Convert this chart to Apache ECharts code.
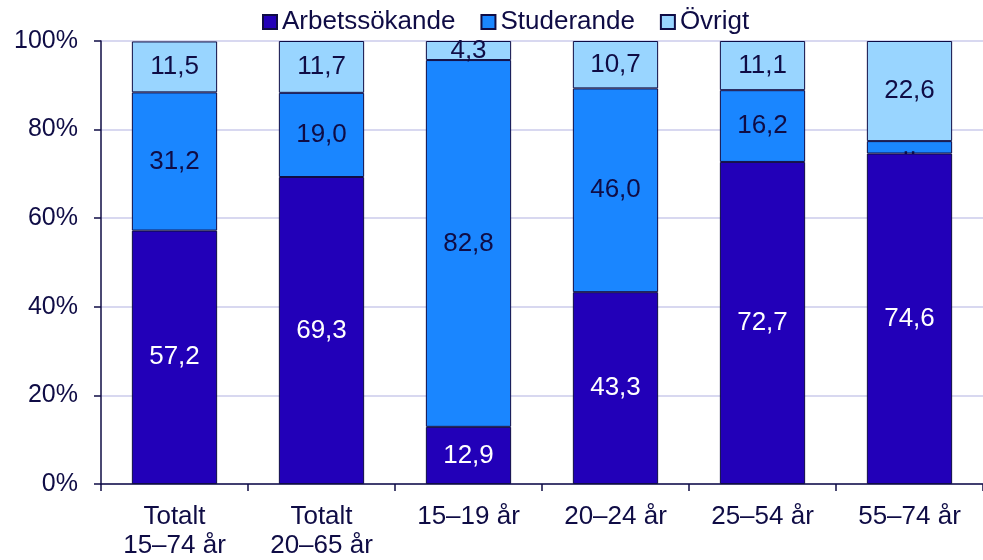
<!DOCTYPE html>
<html><head><meta charset="utf-8">
<script src="https://cdn.jsdelivr.net/npm/echarts@6/dist/echarts.min.js"></script>
<style>html,body{margin:0;padding:0;background:#fff}#c{width:983px;height:560px}</style>
</head><body><div id="c"></div>
<script>
const categories = ['Totalt\n15–74 år', 'Totalt\n20–65 år', '15–19 år', '20–24 år', '25–54 år', '55–74 år'];
const arbetssokande = [57.2, 69.3, 12.9, 43.3, 72.7, 74.6];
const studerande = [31.2, 19.0, 82.8, 46.0, 16.2, 2.8];
const studerandeLabels = ['31,2', '19,0', '82,8', '46,0', '16,2', '..'];
const ovrigt = [11.5, 11.7, 4.3, 10.7, 11.1, 22.6];
const yTicks = [0, 20, 40, 60, 80, 100];

const ink = '#0f0c45';
const fmt = v => v.toFixed(1).replace('.', ',');
const font = '"Liberation Sans", Arial, sans-serif';

function series(name, data, color, labelColor, labels) {
  return {
    name, type: 'bar', stack: 'a', data, barWidth: '58%',
    itemStyle: { color, borderColor: ink, borderWidth: 1 },
    label: {
      show: true, position: 'inside', color: labelColor, fontSize: 26, fontFamily: font,
      formatter: p => labels ? labels[p.dataIndex] : fmt(p.value)
    }
  };
}

const chart = echarts.init(document.getElementById('c'));
chart.setOption({
  animation: false,
  textStyle: { fontFamily: font },
  legend: {
    top: 4, left: 257, itemWidth: 14, itemHeight: 14, itemGap: 25,
    textStyle: { color: ink, fontSize: 26, fontFamily: font },
    icon: 'rect',
    data: ['Arbetssökande', 'Studerande', 'Övrigt']
  },
  grid: { left: 101, right: 0, top: 41, bottom: 75, containLabel: false },
  xAxis: {
    type: 'category', data: categories,
    axisLine: { lineStyle: { color: ink, width: 1.5 } },
    axisTick: { show: true, length: 7, lineStyle: { color: ink, width: 1.5 } },
    axisLabel: { color: ink, fontSize: 26, fontFamily: font, margin: 18, lineHeight: 29 }
  },
  yAxis: {
    type: 'value', min: yTicks[0], max: yTicks[yTicks.length - 1], interval: 20,
    axisLine: { show: true, lineStyle: { color: ink, width: 1.5 } },
    axisTick: { show: true, length: 7, lineStyle: { color: ink, width: 1.5 } },
    axisLabel: { color: ink, fontSize: 25, fontFamily: font, margin: 23, formatter: v => v + '%' },
    splitLine: { show: true, lineStyle: { color: '#d8d8f0', width: 2 } }
  },
  series: [
    series('Arbetssökande', arbetssokande, '#2200b8', '#ffffff'),
    series('Studerande', studerande, '#1a86ff', ink, studerandeLabels),
    series('Övrigt', ovrigt, '#99d5ff', ink)
  ]
});
</script></body></html>
